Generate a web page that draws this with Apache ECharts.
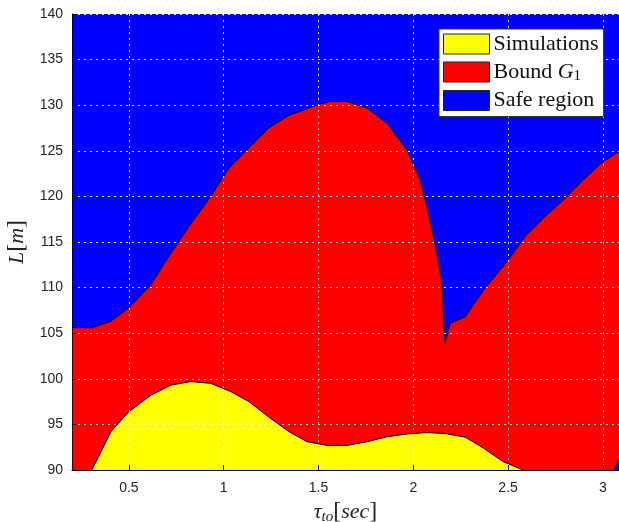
<!DOCTYPE html>
<html>
<head>
<meta charset="utf-8">
<script src="https://cdn.jsdelivr.net/npm/echarts@6/dist/echarts.min.js"></script>
<style>
  html, body { margin: 0; padding: 0; background: #fff; }
  #chart { width: 619px; height: 522px; }
</style>
</head>
<body>
<div id="chart"></div>
<script>
// Take-off delay tau_to [sec] against distance L [m]

// Upper edge of the G1 bound (red region)
var boundTau = [0.2, 0.304, 0.405, 0.5, 0.616, 0.704, 0.817, 0.932, 1.028, 1.133, 1.238, 1.344, 1.44, 1.5, 1.563, 1.651, 1.756, 1.862, 1.967, 2.037, 2.081, 2.125, 2.151, 2.16, 2.168, 2.195, 2.274, 2.37, 2.5, 2.598, 2.695, 2.791, 2.896, 3.0, 3.085];
var boundL   = [105.6, 105.6, 106.3, 107.8, 110.3, 113.2, 116.7, 120.0, 123.1, 125.3, 127.5, 128.9, 129.6, 130.1, 130.4, 130.4, 129.7, 128.0, 125.1, 121.8, 118.1, 113.8, 110.5, 106.8, 103.9, 106.1, 106.8, 109.7, 113.0, 115.8, 117.8, 119.6, 121.8, 123.8, 124.9];

// Upper edge of the simulated region (yellow)
var simTau = [0.304, 0.353, 0.405, 0.5, 0.616, 0.721, 0.826, 0.932, 1.037, 1.133, 1.238, 1.344, 1.44, 1.546, 1.651, 1.756, 1.862, 1.967, 2.072, 2.168, 2.274, 2.37, 2.475, 2.58];
var simL   = [90.0, 92.0, 94.2, 96.4, 98.2, 99.3, 99.7, 99.5, 98.6, 97.5, 95.8, 94.2, 93.1, 92.7, 92.7, 93.1, 93.65, 93.95, 94.1, 94.0, 93.6, 92.4, 90.9, 90.0];

// Safe region: whole domain up to the top, plus the corner below the bound at large tau
var safeTau = [0.2, 3.085];
var safeL   = [140, 140];
var safeCornerTau = [3.059, 3.085];
var safeCornerL   = [90, 91.1];

var xTicks = [0.5, 1, 1.5, 2, 2.5, 3];
var xMin = 0.2, xMax = 3.085;
var yMin = 90, yMax = 140, yStep = 5;

function pairs(xs, ys) {
  return xs.map(function (x, i) { return [x, ys[i]]; });
}

var labelFont = '"Liberation Sans", Arial, Helvetica, sans-serif';
var serifFont = '"Liberation Serif", "Times New Roman", serif';
var textColor = '#262626';

var chart = echarts.init(document.getElementById('chart'), null, { renderer: 'canvas' });

function areaSeries(name, data, color, z, edge) {
  return {
    name: name,
    type: 'line',
    data: data,
    symbol: 'none',
    z: z,
    animation: false,
    silent: true,
    itemStyle: { color: color },
    lineStyle: edge ? { color: '#000', width: 1 } : { width: 0 },
    areaStyle: { color: color, opacity: 1, origin: 'start' }
  };
}

var option = {
  animation: false,
  grid: { left: 72, top: 14, right: 0, bottom: 52, containLabel: false, outerBoundsMode: 'none' },
  legend: {
    orient: 'vertical',
    left: 439,
    top: 29,
    z: 20,
    padding: [4, 5, 5, 4],
    itemWidth: 46,
    itemHeight: 20,
    itemGap: 6,
    icon: 'rect',
    backgroundColor: '#fff',
    borderColor: '#333',
    borderWidth: 1,
    borderRadius: 0,
    itemStyle: { borderColor: '#222', borderWidth: 1 },
    textStyle: {
      fontFamily: serifFont,
      fontSize: 22,
      color: '#111',
      padding: [0, 0, 0, -1],
      rich: {
        n: { fontFamily: serifFont, fontSize: 22, color: '#111' },
        g: { fontFamily: serifFont, fontSize: 22, fontStyle: 'italic', color: '#111' },
        s: { fontFamily: serifFont, fontSize: 15, color: '#111', verticalAlign: 'bottom', padding: [8, 0, 0, 0] }
      }
    },
    formatter: function (name) {
      if (name === 'Bound G1') return '{n|Bound }{g|G}{s|1}';
      return '{n|' + name + '}';
    },
    data: ['Simulations', 'Bound G1', 'Safe region']
  },
  xAxis: {
    type: 'value',
    min: xMin,
    max: xMax,
    z: 10,
    name: '{t|τ}{sub|to}{b|[}{i|sec}{b|]}',
    nameLocation: 'middle',
    nameGap: 27,
    nameTextStyle: {
      rich: {
        t: { fontFamily: serifFont, fontStyle: 'italic', fontSize: 22, color: textColor },
        sub: { fontFamily: serifFont, fontStyle: 'italic', fontSize: 15, color: textColor, padding: [10, 0, 0, 0] },
        b: { fontFamily: serifFont, fontSize: 24, color: textColor },
        i: { fontFamily: serifFont, fontStyle: 'italic', fontSize: 22, color: textColor }
      }
    },
    axisLine: { show: true, lineStyle: { color: '#000', width: 1 } },
    axisTick: { show: true, inside: true, length: 5, customValues: xTicks, lineStyle: { color: '#000' } },
    axisLabel: {
      customValues: xTicks,
      fontFamily: labelFont,
      fontSize: 14,
      color: textColor,
      margin: 11
    },
    splitLine: {
      show: true,
      lineStyle: { color: 'rgba(255,255,255,0.9)', width: 1, type: [2, 4] }
    }
  },
  yAxis: {
    type: 'value',
    min: yMin,
    max: yMax,
    interval: yStep,
    z: 10,
    name: '{i|L}{b|[}{i|m}{b|]}',
    nameLocation: 'middle',
    nameGap: 37,
    nameRotate: 90,
    nameTextStyle: {
      rich: {
        i: { fontFamily: serifFont, fontStyle: 'italic', fontSize: 22, color: textColor },
        b: { fontFamily: serifFont, fontSize: 24, color: textColor }
      }
    },
    axisLine: { show: true, lineStyle: { color: '#000', width: 1 } },
    axisTick: { show: true, inside: true, length: 5, lineStyle: { color: '#000' } },
    axisLabel: {
      fontFamily: labelFont,
      fontSize: 14,
      color: textColor,
      margin: 9
    },
    splitLine: {
      show: true,
      lineStyle: { color: 'rgba(255,255,255,0.9)', width: 1, type: [2, 4] }
    }
  },
  series: [
    areaSeries('Safe region', pairs(safeTau, safeL), '#0000ff', 1, false),
    areaSeries('Bound G1', pairs(boundTau, boundL), '#ff0000', 2, true),
    areaSeries('Simulations', pairs(simTau, simL), '#ffff00', 3, true),
    areaSeries('Safe region', pairs(safeCornerTau, safeCornerL), '#0000ff', 4, true)
  ]
};

chart.setOption(option);
</script>
</body>
</html>
